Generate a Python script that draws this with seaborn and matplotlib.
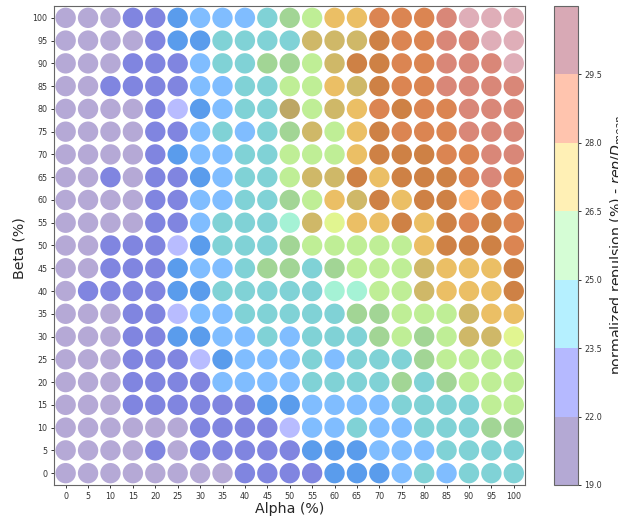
import matplotlib
matplotlib.use("Agg")
import matplotlib.pyplot as plt
import pandas as pd
import seaborn as sns
from matplotlib.cm import ScalarMappable
from matplotlib.colors import BoundaryNorm, ListedColormap

alpha_values = list(range(0, 105, 5))
beta_values = list(range(100, -5, -5))

# one letter per circle, top row is beta = 100
shade_rows = [
    "LLLIIBCCCTGNAAEEERKKK",
    "LLLLIBBTTTTOOODEERRKK",
    "LLLIIICTTGGNODDEERRRK",
    "LLIIIICCTTNNAODEERRRR",
    "LLLLIPBCTTWNOAEDEERRR",
    "LLLLIICTCTGONADEEERRR",
    "LLLLIBCCTTNNNADDDEERR",
    "LLILIIBCTTNOODADDDERE",
    "LLLLIICCTTGNAODADDFEE",
    "LLLLIICTTTMOYAADADEDE",
    "LLIIIPBTTTGNNNNNADDDE",
    "LLIIIBCCTGGTGNNNOAAAD",
    "LIIIIBBTTTTTMMNNOAAAD",
    "LLLIIPCCTTTTTGGNNNOAA",
    "LLLIIBBCCTCTTTGNGNOOY",
    "LLLIIIPBCCCTCTTTGNNNN",
    "LLLIIIICCCCTTTTGTGNNN",
    "LLLIIIIIIBBCCCCTTTTNN",
    "LLLLLLIIIIPCCTCCTTTGG",
    "LLLLILIIIIIBBBCCCTTTT",
    "LLLLLLLLIIIIBBBCTCTTT",
]

shade_colors = {
    "L": "#b5a9d6",
    "P": "#b8bcff",
    "I": "#8085e0",
    "B": "#5a9cec",
    "C": "#80bdff",
    "T": "#80d2d6",
    "G": "#a2d595",
    "N": "#bfee96",
    "M": "#a5f2d5",
    "Y": "#e1f590",
    "W": "#bda764",
    "O": "#cfb868",
    "A": "#ebbf65",
    "F": "#ffbc7a",
    "D": "#ce8145",
    "E": "#db8552",
    "R": "#d98778",
    "K": "#dfaeb8",
}

cbar_bounds = [19.0, 22.0, 23.5, 25.0, 26.5, 28.0, 29.5, 31.0]
cbar_ticks = [19.0, 22.0, 23.5, 25.0, 26.5, 28.0, 29.5]
cbar_colors = ["#b4a9d4", "#b5b9ff", "#b5f0ff", "#d5fdd5", "#fff0b5", "#ffc4ae", "#d8a9b5"]

records = []
for beta, row in zip(beta_values, shade_rows):
    for alpha, shade in zip(alpha_values, row):
        records.append({"alpha": alpha, "beta": beta, "shade": shade})
df = pd.DataFrame(records)

sns.set_style("ticks")
plt.rcParams["axes.edgecolor"] = "#666666"
plt.rcParams["xtick.color"] = "#333333"
plt.rcParams["ytick.color"] = "#333333"

W, H = 618, 520
fig = plt.figure(figsize=(W / 100, H / 100), dpi=100)
ax = fig.add_axes([54 / W, 1 - 485 / H, (525 - 54) / W, (485 - 6) / H])

sns.scatterplot(data=df, x="alpha", y="beta", hue="shade", palette=shade_colors,
                s=215, linewidth=0, legend=False, ax=ax)

ax.set_xlim(-2.6, 102.5)
ax.set_ylim(-2.6, 102.6)
ax.set_xticks(alpha_values)
ax.set_yticks(beta_values)
ax.tick_params(labelsize=5.8, length=2.2, width=0.7, pad=2.5)
ax.set_xlabel("Alpha (%)", fontsize=10.2)
ax.set_ylabel("Beta (%)", fontsize=10.2)
ax.xaxis.set_label_coords(0.5, -0.035)
ax.yaxis.set_label_coords(-0.059, 0.495)

# colorbar with the seven equal bands
cax = fig.add_axes([554 / W, 1 - 485 / H, (578 - 554) / W, (485 - 6) / H])
cmap = ListedColormap(cbar_colors)
norm = BoundaryNorm(cbar_bounds, cmap.N)
cbar = fig.colorbar(ScalarMappable(norm=norm, cmap=cmap), cax=cax, spacing="uniform",
                    ticks=cbar_ticks)
cbar.ax.set_yticklabels([f"{t:.1f}" for t in cbar_ticks])
cbar.ax.tick_params(labelsize=5.8, length=2.2, width=0.7, pad=2.5)
cbar.ax.minorticks_off()

# label runs off the right edge, same as the original crop
fig.text(617 / W, 1 - 245 / H, r"normalized repulsion (%) - $rep/D_{mean}$", rotation=90,
         ha="center", va="center", fontsize=10.2, color="#222222")

fig.savefig("out.png", dpi=100)
